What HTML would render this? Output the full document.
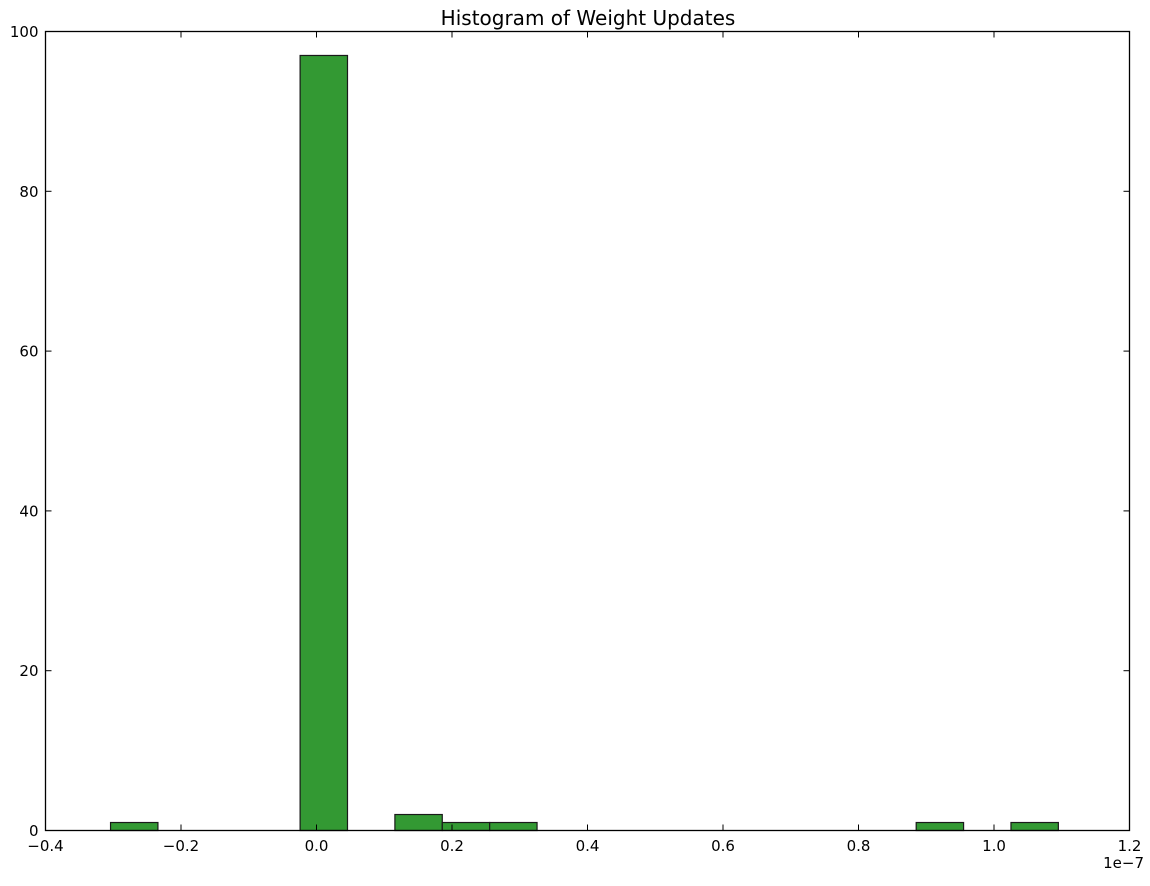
<!DOCTYPE html>
<html><head><meta charset="utf-8"><style>
body{margin:0;background:#fff;}
svg text{font-family:"DejaVu Sans","Liberation Sans",sans-serif;}
</style></head><body>
<svg id="chart" width="1150" height="881" xmlns="http://www.w3.org/2000/svg">
<rect width="1150" height="881" fill="#fff"/>
<text x="588" y="25" font-size="20" text-anchor="middle">Histogram of Weight Updates</text>
<g id="bars"></g>
<g id="axes"></g>
<rect x="45.5" y="31.5" width="1084" height="799" fill="none" stroke="#000" stroke-width="1.3"/>
<text x="1144" y="868" font-size="15" text-anchor="end">1e−7</text>
</svg>
<script>
const binStart = -0.304;
const binEnd = 1.095;
const counts = [1,0,0,0,97,0,2,1,1,0,0,0,0,0,0,0,0,1,0,1];
const xTicks = [-0.4,-0.2,0.0,0.2,0.4,0.6,0.8,1.0,1.2];
const xTickLabels = ["−0.4","−0.2","0.0","0.2","0.4","0.6","0.8","1.0","1.2"];
const yTicks = [0,20,40,60,80,100];

const L=45.5,R=1129.5,T=31.5,B=830.5;
const xs=v=>L+(v-(-0.4))/(1.6)*(R-L);
const ys=v=>B-v/100*(B-T);
const NS="http://www.w3.org/2000/svg";
const bars=document.getElementById('bars'), axes=document.getElementById('axes');
const w=(binEnd-binStart)/counts.length;
counts.forEach((c,i)=>{
  if(!c) return;
  const r=document.createElementNS(NS,'rect');
  const x0=xs(binStart+i*w), x1=xs(binStart+(i+1)*w);
  r.setAttribute('x',x0);r.setAttribute('y',ys(c));
  r.setAttribute('width',x1-x0);r.setAttribute('height',ys(0)-ys(c));
  r.setAttribute('fill','#339933');r.setAttribute('stroke','#1a1a1a');r.setAttribute('stroke-width','1.2');
  
  
  bars.appendChild(r);
});
function line(x1,y1,x2,y2){const l=document.createElementNS(NS,'line');l.setAttribute('x1',x1);l.setAttribute('y1',y1);l.setAttribute('x2',x2);l.setAttribute('y2',y2);l.setAttribute('stroke','#000');l.setAttribute('stroke-width','1');axes.appendChild(l);return l;}
function text(x,y,s,anchor){const t=document.createElementNS(NS,'text');t.setAttribute('x',x);t.setAttribute('y',y);t.setAttribute('font-size','15');t.setAttribute('text-anchor',anchor);t.textContent=s;axes.appendChild(t);return t;}
xTicks.forEach((v,i)=>{
  const x=xs(v);
  const a=line(x,B,x,B-6);
  
  
  const b=line(x,T,x,T+6);
  
  
  const t=text(x,851,xTickLabels[i],'middle');
  
  
});
yTicks.forEach(v=>{
  const y=ys(v);
  const a=line(L,y,L+6,y);
  
  
  const b=line(R,y,R-6,y);
  
  
  const t=text(L-7,y+5.5,String(v),'end');
  
  
});
</script>
</body></html>
